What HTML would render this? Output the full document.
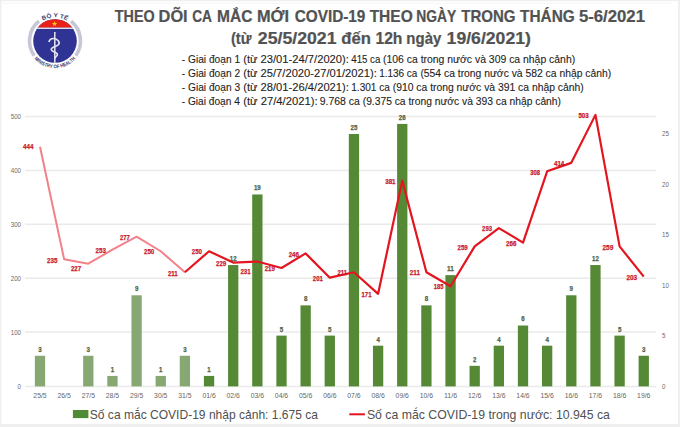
<!DOCTYPE html>
<html><head><meta charset="utf-8"><style>
html,body{margin:0;padding:0;background:#fff;width:680px;height:427px;overflow:hidden;position:relative}
svg text{font-family:"Liberation Sans",sans-serif}
</style></head><body>
<svg width="680" height="427" viewBox="0 0 680 427" style="position:absolute;left:0;top:0">
<rect x="0" y="0" width="680" height="427" fill="#efefef"/>
<rect x="1.5" y="1.2" width="676.5" height="422.8" fill="#ffffff"/>
<line x1="0" y1="3.3" x2="672" y2="3.3" stroke="#f6f6f6" stroke-width="1"/>
<line x1="25" y1="386.60" x2="656" y2="386.60" stroke="#eaeaea" stroke-width="1.5"/>
<line x1="25" y1="332.10" x2="656" y2="332.10" stroke="#eaeaea" stroke-width="1.5"/>
<line x1="25" y1="278.20" x2="656" y2="278.20" stroke="#eaeaea" stroke-width="1.5"/>
<line x1="25" y1="224.30" x2="656" y2="224.30" stroke="#eaeaea" stroke-width="1.5"/>
<line x1="25" y1="170.40" x2="656" y2="170.40" stroke="#eaeaea" stroke-width="1.5"/>
<line x1="25" y1="116.50" x2="656" y2="116.50" stroke="#eaeaea" stroke-width="1.5"/>
<text x="21" y="388.50" text-anchor="end" font-size="7.5" fill="#6a6a6a" textLength="3.43" lengthAdjust="spacingAndGlyphs">0</text>
<text x="21" y="334.60" text-anchor="end" font-size="7.5" fill="#6a6a6a" textLength="10.29" lengthAdjust="spacingAndGlyphs">100</text>
<text x="21" y="280.70" text-anchor="end" font-size="7.5" fill="#6a6a6a" textLength="10.29" lengthAdjust="spacingAndGlyphs">200</text>
<text x="21" y="226.80" text-anchor="end" font-size="7.5" fill="#6a6a6a" textLength="10.29" lengthAdjust="spacingAndGlyphs">300</text>
<text x="21" y="172.90" text-anchor="end" font-size="7.5" fill="#6a6a6a" textLength="10.29" lengthAdjust="spacingAndGlyphs">400</text>
<text x="21" y="119.00" text-anchor="end" font-size="7.5" fill="#6a6a6a" textLength="10.29" lengthAdjust="spacingAndGlyphs">500</text>
<text x="662" y="388.50" font-size="7.5" fill="#6a6a6a" textLength="3.43" lengthAdjust="spacingAndGlyphs">0</text>
<text x="662" y="338.05" font-size="7.5" fill="#6a6a6a" textLength="3.43" lengthAdjust="spacingAndGlyphs">5</text>
<text x="662" y="287.60" font-size="7.5" fill="#6a6a6a" textLength="6.86" lengthAdjust="spacingAndGlyphs">10</text>
<text x="662" y="237.15" font-size="7.5" fill="#6a6a6a" textLength="6.86" lengthAdjust="spacingAndGlyphs">15</text>
<text x="662" y="186.70" font-size="7.5" fill="#6a6a6a" textLength="6.86" lengthAdjust="spacingAndGlyphs">20</text>
<text x="662" y="136.25" font-size="7.5" fill="#6a6a6a" textLength="6.86" lengthAdjust="spacingAndGlyphs">25</text>
<text x="40.00" y="398.00" text-anchor="middle" font-size="7.8" fill="#666666" textLength="13.3" lengthAdjust="spacingAndGlyphs">25/5</text>
<text x="64.15" y="398.00" text-anchor="middle" font-size="7.8" fill="#666666" textLength="13.3" lengthAdjust="spacingAndGlyphs">26/5</text>
<text x="88.30" y="398.00" text-anchor="middle" font-size="7.8" fill="#666666" textLength="13.3" lengthAdjust="spacingAndGlyphs">27/5</text>
<text x="112.45" y="398.00" text-anchor="middle" font-size="7.8" fill="#666666" textLength="13.3" lengthAdjust="spacingAndGlyphs">28/5</text>
<text x="136.60" y="398.00" text-anchor="middle" font-size="7.8" fill="#666666" textLength="13.3" lengthAdjust="spacingAndGlyphs">29/5</text>
<text x="160.75" y="398.00" text-anchor="middle" font-size="7.8" fill="#666666" textLength="13.3" lengthAdjust="spacingAndGlyphs">30/5</text>
<text x="184.90" y="398.00" text-anchor="middle" font-size="7.8" fill="#666666" textLength="13.3" lengthAdjust="spacingAndGlyphs">31/5</text>
<text x="209.05" y="398.00" text-anchor="middle" font-size="7.8" fill="#666666" textLength="13.3" lengthAdjust="spacingAndGlyphs">01/6</text>
<text x="233.20" y="398.00" text-anchor="middle" font-size="7.8" fill="#666666" textLength="13.3" lengthAdjust="spacingAndGlyphs">02/6</text>
<text x="257.35" y="398.00" text-anchor="middle" font-size="7.8" fill="#666666" textLength="13.3" lengthAdjust="spacingAndGlyphs">03/6</text>
<text x="281.50" y="398.00" text-anchor="middle" font-size="7.8" fill="#666666" textLength="13.3" lengthAdjust="spacingAndGlyphs">04/6</text>
<text x="305.65" y="398.00" text-anchor="middle" font-size="7.8" fill="#666666" textLength="13.3" lengthAdjust="spacingAndGlyphs">05/6</text>
<text x="329.80" y="398.00" text-anchor="middle" font-size="7.8" fill="#666666" textLength="13.3" lengthAdjust="spacingAndGlyphs">06/6</text>
<text x="353.95" y="398.00" text-anchor="middle" font-size="7.8" fill="#666666" textLength="13.3" lengthAdjust="spacingAndGlyphs">07/6</text>
<text x="378.10" y="398.00" text-anchor="middle" font-size="7.8" fill="#666666" textLength="13.3" lengthAdjust="spacingAndGlyphs">08/6</text>
<text x="402.25" y="398.00" text-anchor="middle" font-size="7.8" fill="#666666" textLength="13.3" lengthAdjust="spacingAndGlyphs">09/6</text>
<text x="426.40" y="398.00" text-anchor="middle" font-size="7.8" fill="#666666" textLength="13.3" lengthAdjust="spacingAndGlyphs">10/6</text>
<text x="450.55" y="398.00" text-anchor="middle" font-size="7.8" fill="#666666" textLength="13.3" lengthAdjust="spacingAndGlyphs">11/6</text>
<text x="474.70" y="398.00" text-anchor="middle" font-size="7.8" fill="#666666" textLength="13.3" lengthAdjust="spacingAndGlyphs">12/6</text>
<text x="498.85" y="398.00" text-anchor="middle" font-size="7.8" fill="#666666" textLength="13.3" lengthAdjust="spacingAndGlyphs">13/6</text>
<text x="523.00" y="398.00" text-anchor="middle" font-size="7.8" fill="#666666" textLength="13.3" lengthAdjust="spacingAndGlyphs">14/6</text>
<text x="547.15" y="398.00" text-anchor="middle" font-size="7.8" fill="#666666" textLength="13.3" lengthAdjust="spacingAndGlyphs">15/6</text>
<text x="571.30" y="398.00" text-anchor="middle" font-size="7.8" fill="#666666" textLength="13.3" lengthAdjust="spacingAndGlyphs">16/6</text>
<text x="595.45" y="398.00" text-anchor="middle" font-size="7.8" fill="#666666" textLength="13.3" lengthAdjust="spacingAndGlyphs">17/6</text>
<text x="619.60" y="398.00" text-anchor="middle" font-size="7.8" fill="#666666" textLength="13.3" lengthAdjust="spacingAndGlyphs">18/6</text>
<text x="643.75" y="398.00" text-anchor="middle" font-size="7.8" fill="#666666" textLength="13.3" lengthAdjust="spacingAndGlyphs">19/6</text>
<rect x="34.85" y="355.76" width="10.3" height="30.64" fill="#87a872"/>
<text x="40.00" y="351.66" text-anchor="middle" font-size="7.3" font-weight="bold" fill="#536343" stroke="#536343" stroke-width="0.25" textLength="3.43" lengthAdjust="spacingAndGlyphs">3</text>
<rect x="83.15" y="355.76" width="10.3" height="30.64" fill="#87a872"/>
<text x="88.30" y="351.66" text-anchor="middle" font-size="7.3" font-weight="bold" fill="#536343" stroke="#536343" stroke-width="0.25" textLength="3.43" lengthAdjust="spacingAndGlyphs">3</text>
<rect x="107.30" y="375.92" width="10.3" height="10.48" fill="#87a872"/>
<text x="112.45" y="371.82" text-anchor="middle" font-size="7.3" font-weight="bold" fill="#536343" stroke="#536343" stroke-width="0.25" textLength="3.43" lengthAdjust="spacingAndGlyphs">1</text>
<rect x="131.45" y="295.28" width="10.3" height="91.12" fill="#87a872"/>
<text x="136.60" y="291.18" text-anchor="middle" font-size="7.3" font-weight="bold" fill="#536343" stroke="#536343" stroke-width="0.25" textLength="3.43" lengthAdjust="spacingAndGlyphs">9</text>
<rect x="155.60" y="375.92" width="10.3" height="10.48" fill="#87a872"/>
<text x="160.75" y="371.82" text-anchor="middle" font-size="7.3" font-weight="bold" fill="#536343" stroke="#536343" stroke-width="0.25" textLength="3.43" lengthAdjust="spacingAndGlyphs">1</text>
<rect x="179.75" y="355.76" width="10.3" height="30.64" fill="#87a872"/>
<text x="184.90" y="351.66" text-anchor="middle" font-size="7.3" font-weight="bold" fill="#536343" stroke="#536343" stroke-width="0.25" textLength="3.43" lengthAdjust="spacingAndGlyphs">3</text>
<rect x="203.90" y="375.92" width="10.3" height="10.48" fill="#568936"/>
<text x="209.05" y="371.82" text-anchor="middle" font-size="7.3" font-weight="bold" fill="#536343" stroke="#536343" stroke-width="0.25" textLength="3.43" lengthAdjust="spacingAndGlyphs">1</text>
<rect x="228.05" y="265.04" width="10.3" height="121.36" fill="#568936"/>
<text x="233.20" y="260.94" text-anchor="middle" font-size="7.3" font-weight="bold" fill="#536343" stroke="#536343" stroke-width="0.25" textLength="6.86" lengthAdjust="spacingAndGlyphs">12</text>
<rect x="252.20" y="194.48" width="10.3" height="191.92" fill="#568936"/>
<text x="257.35" y="190.38" text-anchor="middle" font-size="7.3" font-weight="bold" fill="#536343" stroke="#536343" stroke-width="0.25" textLength="6.86" lengthAdjust="spacingAndGlyphs">19</text>
<rect x="276.35" y="335.60" width="10.3" height="50.80" fill="#568936"/>
<text x="281.50" y="331.50" text-anchor="middle" font-size="7.3" font-weight="bold" fill="#536343" stroke="#536343" stroke-width="0.25" textLength="3.43" lengthAdjust="spacingAndGlyphs">5</text>
<rect x="300.50" y="305.36" width="10.3" height="81.04" fill="#568936"/>
<text x="305.65" y="301.26" text-anchor="middle" font-size="7.3" font-weight="bold" fill="#536343" stroke="#536343" stroke-width="0.25" textLength="3.43" lengthAdjust="spacingAndGlyphs">8</text>
<rect x="324.65" y="335.60" width="10.3" height="50.80" fill="#568936"/>
<text x="329.80" y="331.50" text-anchor="middle" font-size="7.3" font-weight="bold" fill="#536343" stroke="#536343" stroke-width="0.25" textLength="3.43" lengthAdjust="spacingAndGlyphs">5</text>
<rect x="348.80" y="134.00" width="10.3" height="252.40" fill="#568936"/>
<text x="353.95" y="129.90" text-anchor="middle" font-size="7.3" font-weight="bold" fill="#536343" stroke="#536343" stroke-width="0.25" textLength="6.86" lengthAdjust="spacingAndGlyphs">25</text>
<rect x="372.95" y="345.68" width="10.3" height="40.72" fill="#568936"/>
<text x="378.10" y="341.58" text-anchor="middle" font-size="7.3" font-weight="bold" fill="#536343" stroke="#536343" stroke-width="0.25" textLength="3.43" lengthAdjust="spacingAndGlyphs">4</text>
<rect x="397.10" y="123.92" width="10.3" height="262.48" fill="#568936"/>
<text x="402.25" y="119.82" text-anchor="middle" font-size="7.3" font-weight="bold" fill="#536343" stroke="#536343" stroke-width="0.25" textLength="6.86" lengthAdjust="spacingAndGlyphs">26</text>
<rect x="421.25" y="305.36" width="10.3" height="81.04" fill="#568936"/>
<text x="426.40" y="301.26" text-anchor="middle" font-size="7.3" font-weight="bold" fill="#536343" stroke="#536343" stroke-width="0.25" textLength="3.43" lengthAdjust="spacingAndGlyphs">8</text>
<rect x="445.40" y="275.12" width="10.3" height="111.28" fill="#568936"/>
<text x="450.55" y="271.02" text-anchor="middle" font-size="7.3" font-weight="bold" fill="#536343" stroke="#536343" stroke-width="0.25" textLength="6.86" lengthAdjust="spacingAndGlyphs">11</text>
<rect x="469.55" y="365.84" width="10.3" height="20.56" fill="#568936"/>
<text x="474.70" y="361.74" text-anchor="middle" font-size="7.3" font-weight="bold" fill="#536343" stroke="#536343" stroke-width="0.25" textLength="3.43" lengthAdjust="spacingAndGlyphs">2</text>
<rect x="493.70" y="345.68" width="10.3" height="40.72" fill="#568936"/>
<text x="498.85" y="341.58" text-anchor="middle" font-size="7.3" font-weight="bold" fill="#536343" stroke="#536343" stroke-width="0.25" textLength="3.43" lengthAdjust="spacingAndGlyphs">4</text>
<rect x="517.85" y="325.52" width="10.3" height="60.88" fill="#568936"/>
<text x="523.00" y="321.42" text-anchor="middle" font-size="7.3" font-weight="bold" fill="#536343" stroke="#536343" stroke-width="0.25" textLength="3.43" lengthAdjust="spacingAndGlyphs">6</text>
<rect x="542.00" y="345.68" width="10.3" height="40.72" fill="#568936"/>
<text x="547.15" y="341.58" text-anchor="middle" font-size="7.3" font-weight="bold" fill="#536343" stroke="#536343" stroke-width="0.25" textLength="3.43" lengthAdjust="spacingAndGlyphs">4</text>
<rect x="566.15" y="295.28" width="10.3" height="91.12" fill="#568936"/>
<text x="571.30" y="291.18" text-anchor="middle" font-size="7.3" font-weight="bold" fill="#536343" stroke="#536343" stroke-width="0.25" textLength="3.43" lengthAdjust="spacingAndGlyphs">9</text>
<rect x="590.30" y="265.04" width="10.3" height="121.36" fill="#568936"/>
<text x="595.45" y="260.94" text-anchor="middle" font-size="7.3" font-weight="bold" fill="#536343" stroke="#536343" stroke-width="0.25" textLength="6.86" lengthAdjust="spacingAndGlyphs">12</text>
<rect x="614.45" y="335.60" width="10.3" height="50.80" fill="#568936"/>
<text x="619.60" y="331.50" text-anchor="middle" font-size="7.3" font-weight="bold" fill="#536343" stroke="#536343" stroke-width="0.25" textLength="3.43" lengthAdjust="spacingAndGlyphs">5</text>
<rect x="638.60" y="355.76" width="10.3" height="30.64" fill="#568936"/>
<text x="643.75" y="351.66" text-anchor="middle" font-size="7.3" font-weight="bold" fill="#536343" stroke="#536343" stroke-width="0.25" textLength="3.43" lengthAdjust="spacingAndGlyphs">3</text>
<polyline points="40.00,146.68 64.15,259.33 88.30,263.65 112.45,249.63 136.60,236.70 160.75,251.25 184.90,272.27" fill="none" stroke="#f3818a" stroke-width="2" stroke-linejoin="round"/>
<polyline points="184.90,272.27 209.05,251.25 233.20,262.57 257.35,261.49 281.50,267.96 305.65,253.41 329.80,277.66 353.95,272.27 378.10,293.83 402.25,180.64 426.40,272.27 450.55,286.28 474.70,246.40 498.85,228.07 523.00,242.63 547.15,171.30 571.30,162.85 595.45,114.88 619.60,246.40 643.75,276.58" fill="none" stroke="#e3151f" stroke-width="2.2" stroke-linejoin="round"/>
<text x="23.00" y="149.40" font-size="7.3" font-weight="bold" fill="#c81a2c" stroke="#c81a2c" stroke-width="0.25" textLength="10.40" lengthAdjust="spacingAndGlyphs">444</text>
<text x="47.00" y="262.50" font-size="7.3" font-weight="bold" fill="#c81a2c" stroke="#c81a2c" stroke-width="0.25" textLength="10.40" lengthAdjust="spacingAndGlyphs">235</text>
<text x="70.90" y="270.90" font-size="7.3" font-weight="bold" fill="#c81a2c" stroke="#c81a2c" stroke-width="0.25" textLength="10.30" lengthAdjust="spacingAndGlyphs">227</text>
<text x="95.60" y="252.80" font-size="7.3" font-weight="bold" fill="#c81a2c" stroke="#c81a2c" stroke-width="0.25" textLength="10.30" lengthAdjust="spacingAndGlyphs">253</text>
<text x="119.90" y="240.00" font-size="7.3" font-weight="bold" fill="#c81a2c" stroke="#c81a2c" stroke-width="0.25" textLength="9.80" lengthAdjust="spacingAndGlyphs">277</text>
<text x="144.00" y="254.10" font-size="7.3" font-weight="bold" fill="#c81a2c" stroke="#c81a2c" stroke-width="0.25" textLength="10.30" lengthAdjust="spacingAndGlyphs">250</text>
<text x="167.90" y="275.50" font-size="7.3" font-weight="bold" fill="#c81a2c" stroke="#c81a2c" stroke-width="0.25" textLength="9.90" lengthAdjust="spacingAndGlyphs">211</text>
<text x="191.80" y="254.10" font-size="7.3" font-weight="bold" fill="#c81a2c" stroke="#c81a2c" stroke-width="0.25" textLength="10.20" lengthAdjust="spacingAndGlyphs">250</text>
<text x="216.00" y="265.90" font-size="7.3" font-weight="bold" fill="#c81a2c" stroke="#c81a2c" stroke-width="0.25" textLength="10.30" lengthAdjust="spacingAndGlyphs">229</text>
<text x="240.40" y="273.70" font-size="7.3" font-weight="bold" fill="#c81a2c" stroke="#c81a2c" stroke-width="0.25" textLength="10.30" lengthAdjust="spacingAndGlyphs">231</text>
<text x="264.70" y="271.20" font-size="7.3" font-weight="bold" fill="#c81a2c" stroke="#c81a2c" stroke-width="0.25" textLength="10.30" lengthAdjust="spacingAndGlyphs">219</text>
<text x="288.70" y="256.80" font-size="7.3" font-weight="bold" fill="#c81a2c" stroke="#c81a2c" stroke-width="0.25" textLength="10.30" lengthAdjust="spacingAndGlyphs">246</text>
<text x="312.80" y="281.00" font-size="7.3" font-weight="bold" fill="#c81a2c" stroke="#c81a2c" stroke-width="0.25" textLength="10.00" lengthAdjust="spacingAndGlyphs">201</text>
<text x="337.40" y="275.30" font-size="7.3" font-weight="bold" fill="#c81a2c" stroke="#c81a2c" stroke-width="0.25" textLength="9.80" lengthAdjust="spacingAndGlyphs">211</text>
<text x="361.50" y="296.90" font-size="7.3" font-weight="bold" fill="#c81a2c" stroke="#c81a2c" stroke-width="0.25" textLength="10.00" lengthAdjust="spacingAndGlyphs">171</text>
<text x="385.20" y="183.70" font-size="7.3" font-weight="bold" fill="#c81a2c" stroke="#c81a2c" stroke-width="0.25" textLength="10.40" lengthAdjust="spacingAndGlyphs">381</text>
<text x="409.70" y="275.30" font-size="7.3" font-weight="bold" fill="#c81a2c" stroke="#c81a2c" stroke-width="0.25" textLength="10.30" lengthAdjust="spacingAndGlyphs">211</text>
<text x="433.80" y="289.40" font-size="7.3" font-weight="bold" fill="#c81a2c" stroke="#c81a2c" stroke-width="0.25" textLength="9.80" lengthAdjust="spacingAndGlyphs">185</text>
<text x="457.50" y="249.50" font-size="7.3" font-weight="bold" fill="#c81a2c" stroke="#c81a2c" stroke-width="0.25" textLength="10.20" lengthAdjust="spacingAndGlyphs">259</text>
<text x="482.10" y="231.00" font-size="7.3" font-weight="bold" fill="#c81a2c" stroke="#c81a2c" stroke-width="0.25" textLength="9.90" lengthAdjust="spacingAndGlyphs">293</text>
<text x="505.90" y="245.80" font-size="7.3" font-weight="bold" fill="#c81a2c" stroke="#c81a2c" stroke-width="0.25" textLength="10.60" lengthAdjust="spacingAndGlyphs">266</text>
<text x="530.20" y="174.70" font-size="7.3" font-weight="bold" fill="#c81a2c" stroke="#c81a2c" stroke-width="0.25" textLength="9.80" lengthAdjust="spacingAndGlyphs">308</text>
<text x="554.00" y="165.80" font-size="7.3" font-weight="bold" fill="#c81a2c" stroke="#c81a2c" stroke-width="0.25" textLength="10.30" lengthAdjust="spacingAndGlyphs">414</text>
<text x="578.40" y="117.90" font-size="7.3" font-weight="bold" fill="#c81a2c" stroke="#c81a2c" stroke-width="0.25" textLength="10.30" lengthAdjust="spacingAndGlyphs">503</text>
<text x="602.50" y="249.70" font-size="7.3" font-weight="bold" fill="#c81a2c" stroke="#c81a2c" stroke-width="0.25" textLength="10.80" lengthAdjust="spacingAndGlyphs">259</text>
<text x="626.40" y="279.60" font-size="7.3" font-weight="bold" fill="#c81a2c" stroke="#c81a2c" stroke-width="0.25" textLength="10.70" lengthAdjust="spacingAndGlyphs">203</text>
<rect x="72.9" y="410" width="15.5" height="8.1" fill="#4f8a34"/>
<text x="89.8" y="418.6" font-size="13.2" fill="#505050" textLength="228.2" lengthAdjust="spacingAndGlyphs">Số ca mắc COVID-19 nhập cảnh: 1.675 ca</text>
<rect x="349.3" y="413.3" width="15.6" height="2" fill="#e3151f"/>
<text x="366.9" y="418.6" font-size="13.2" fill="#505050" textLength="243" lengthAdjust="spacingAndGlyphs">Số ca mắc COVID-19 trong nước: 10.945 ca</text>
<g>
<path d="M 34.24 55.81 A 25.5 25.5 0 0 1 38.95 21.18" fill="none" stroke="#c6c6d6" stroke-width="3.6"/>
<path d="M 75.76 55.81 A 25.5 25.5 0 0 0 71.05 21.18" fill="none" stroke="#c6c6d6" stroke-width="3.6"/>
<clipPath id="cc"><circle cx="55.0" cy="41.0" r="21.8"/></clipPath>
<g clip-path="url(#cc)">
<rect x="30" y="15" width="50" height="55" fill="#2f3494"/>
<rect x="30" y="15" width="50" height="12.7" fill="#e8221b"/>
<rect x="30" y="27.6" width="50" height="1.3" fill="#f6f2f6"/>
</g>
<polygon points="54.6,21.2 55.35,22.9 57.2,23 55.8,24.2 56.25,26 54.6,25 52.95,26 53.4,24.2 52,23 53.85,22.9" fill="#ffd000"/>
<path d="M54.8 32 L54.8 62.7" stroke="#e6e6f2" stroke-width="1.5"/>
<path d="M48.9 42 C 49.5 39.8, 51.3 38.4, 53.5 38.5 C 57.5 38.8, 60.5 42, 58.5 44.6 C 56.5 47, 51 46.8, 51.2 49.5 C 51.4 52, 57.6 52, 57.4 54.6 C 57.2 56.6, 54.5 57, 54.8 58.8" fill="none" stroke="#e6e6f2" stroke-width="1.6"/>

<text transform="translate(44.89,19.57) rotate(334.7) scale(1.099,1)" text-anchor="middle" font-size="5.8" font-weight="bold" fill="#3b3d70">B</text><text transform="translate(49.39,17.97) rotate(346.3) scale(1.099,1)" text-anchor="middle" font-size="5.8" font-weight="bold" fill="#3b3d70">Ộ</text><text transform="translate(55.71,17.31) rotate(361.7) scale(1.099,1)" text-anchor="middle" font-size="5.8" font-weight="bold" fill="#3b3d70">Y</text><text transform="translate(61.47,18.20) rotate(375.8) scale(1.099,1)" text-anchor="middle" font-size="5.8" font-weight="bold" fill="#3b3d70">T</text><text transform="translate(65.27,19.64) rotate(385.7) scale(1.099,1)" text-anchor="middle" font-size="5.8" font-weight="bold" fill="#3b3d70">Ế</text>
<text transform="translate(35.54,60.01) rotate(45.7) scale(0.839,1)" text-anchor="middle" font-size="5.2" font-weight="bold" fill="#3b3d70">M</text><text transform="translate(37.31,61.66) rotate(40.6) scale(0.839,1)" text-anchor="middle" font-size="5.2" font-weight="bold" fill="#3b3d70">I</text><text transform="translate(39.02,63.01) rotate(36.0) scale(0.839,1)" text-anchor="middle" font-size="5.2" font-weight="bold" fill="#3b3d70">N</text><text transform="translate(40.83,64.22) rotate(31.4) scale(0.839,1)" text-anchor="middle" font-size="5.2" font-weight="bold" fill="#3b3d70">I</text><text transform="translate(42.63,65.23) rotate(27.0) scale(0.839,1)" text-anchor="middle" font-size="5.2" font-weight="bold" fill="#3b3d70">S</text><text transform="translate(45.17,66.36) rotate(21.2) scale(0.839,1)" text-anchor="middle" font-size="5.2" font-weight="bold" fill="#3b3d70">T</text><text transform="translate(47.93,67.27) rotate(15.1) scale(0.839,1)" text-anchor="middle" font-size="5.2" font-weight="bold" fill="#3b3d70">R</text><text transform="translate(50.90,67.89) rotate(8.7) scale(0.839,1)" text-anchor="middle" font-size="5.2" font-weight="bold" fill="#3b3d70">Y</text><text transform="translate(55.24,68.20) rotate(-0.5) scale(0.839,1)" text-anchor="middle" font-size="5.2" font-weight="bold" fill="#3b3d70">O</text><text transform="translate(58.26,68.00) rotate(-6.9) scale(0.839,1)" text-anchor="middle" font-size="5.2" font-weight="bold" fill="#3b3d70">F</text><text transform="translate(62.30,67.20) rotate(-15.6) scale(0.839,1)" text-anchor="middle" font-size="5.2" font-weight="bold" fill="#3b3d70">H</text><text transform="translate(65.17,66.23) rotate(-21.9) scale(0.839,1)" text-anchor="middle" font-size="5.2" font-weight="bold" fill="#3b3d70">E</text><text transform="translate(67.91,64.94) rotate(-28.3) scale(0.839,1)" text-anchor="middle" font-size="5.2" font-weight="bold" fill="#3b3d70">A</text><text transform="translate(70.39,63.43) rotate(-34.5) scale(0.839,1)" text-anchor="middle" font-size="5.2" font-weight="bold" fill="#3b3d70">L</text><text transform="translate(72.51,61.82) rotate(-40.1) scale(0.839,1)" text-anchor="middle" font-size="5.2" font-weight="bold" fill="#3b3d70">T</text><text transform="translate(74.63,59.83) rotate(-46.2) scale(0.839,1)" text-anchor="middle" font-size="5.2" font-weight="bold" fill="#3b3d70">H</text>
</g>
<g transform="translate(0,21.8) scale(1,1.1)"><text x="114.85" y="0" font-size="14.6" font-weight="bold" fill="#525252" stroke="#525252" stroke-width="0.2" textLength="39.79" lengthAdjust="spacingAndGlyphs">THEO</text></g>
<g transform="translate(0,21.8) scale(1,1.1)"><text x="158.58" y="0" font-size="14.6" font-weight="bold" fill="#525252" stroke="#525252" stroke-width="0.2" textLength="29.09" lengthAdjust="spacingAndGlyphs">DÕI</text></g>
<g transform="translate(0,21.8) scale(1,1.1)"><text x="192.23" y="0" font-size="14.6" font-weight="bold" fill="#525252" stroke="#525252" stroke-width="0.2" textLength="19.78" lengthAdjust="spacingAndGlyphs">CA</text></g>
<g transform="translate(0,21.8) scale(1,1.1)"><text x="217.04" y="0" font-size="14.6" font-weight="bold" fill="#525252" stroke="#525252" stroke-width="0.2" textLength="35.39" lengthAdjust="spacingAndGlyphs">MẮC</text></g>
<g transform="translate(0,21.8) scale(1,1.1)"><text x="256.98" y="0" font-size="14.6" font-weight="bold" fill="#525252" stroke="#525252" stroke-width="0.2" textLength="32.15" lengthAdjust="spacingAndGlyphs">MỚI</text></g>
<g transform="translate(0,21.8) scale(1,1.1)"><text x="294.67" y="0" font-size="14.6" font-weight="bold" fill="#525252" stroke="#525252" stroke-width="0.2" textLength="70.74" lengthAdjust="spacingAndGlyphs">COVID-19</text></g>
<g transform="translate(0,21.8) scale(1,1.1)"><text x="369.63" y="0" font-size="14.6" font-weight="bold" fill="#525252" stroke="#525252" stroke-width="0.2" textLength="43.15" lengthAdjust="spacingAndGlyphs">THEO</text></g>
<g transform="translate(0,21.8) scale(1,1.1)"><text x="416.25" y="0" font-size="14.6" font-weight="bold" fill="#525252" stroke="#525252" stroke-width="0.2" textLength="39.95" lengthAdjust="spacingAndGlyphs">NGÀY</text></g>
<g transform="translate(0,21.8) scale(1,1.1)"><text x="461.24" y="0" font-size="14.6" font-weight="bold" fill="#525252" stroke="#525252" stroke-width="0.2" textLength="54.35" lengthAdjust="spacingAndGlyphs">TRONG</text></g>
<g transform="translate(0,21.8) scale(1,1.1)"><text x="520.04" y="0" font-size="14.6" font-weight="bold" fill="#525252" stroke="#525252" stroke-width="0.2" textLength="54.71" lengthAdjust="spacingAndGlyphs">THÁNG</text></g>
<g transform="translate(0,21.8) scale(1,1.1)"><text x="578.93" y="0" font-size="14.6" font-weight="bold" fill="#525252" stroke="#525252" stroke-width="0.2" textLength="66.01" lengthAdjust="spacingAndGlyphs">5-6/2021</text></g>
<g transform="translate(0,44.4) scale(1,1.1)"><text x="230.94" y="0" font-size="14.6" font-weight="bold" fill="#525252" stroke="#525252" stroke-width="0.2" textLength="20.61" lengthAdjust="spacingAndGlyphs">(từ</text></g>
<g transform="translate(0,44.4) scale(1,1.1)"><text x="257.89" y="0" font-size="14.6" font-weight="bold" fill="#525252" stroke="#525252" stroke-width="0.2" textLength="78.64" lengthAdjust="spacingAndGlyphs">25/5/2021</text></g>
<g transform="translate(0,44.4) scale(1,1.1)"><text x="341.33" y="0" font-size="14.6" font-weight="bold" fill="#525252" stroke="#525252" stroke-width="0.2" textLength="29.66" lengthAdjust="spacingAndGlyphs">đến</text></g>
<g transform="translate(0,44.4) scale(1,1.1)"><text x="375.42" y="0" font-size="14.6" font-weight="bold" fill="#525252" stroke="#525252" stroke-width="0.2" textLength="27.05" lengthAdjust="spacingAndGlyphs">12h</text></g>
<g transform="translate(0,44.4) scale(1,1.1)"><text x="406.38" y="0" font-size="14.6" font-weight="bold" fill="#525252" stroke="#525252" stroke-width="0.2" textLength="34.90" lengthAdjust="spacingAndGlyphs">ngày</text></g>
<g transform="translate(0,44.4) scale(1,1.1)"><text x="446.59" y="0" font-size="14.6" font-weight="bold" fill="#525252" stroke="#525252" stroke-width="0.2" textLength="84.28" lengthAdjust="spacingAndGlyphs">19/6/2021)</text></g>
<text x="181.79" y="62.8" font-size="10" font-weight="normal" fill="#1e1e1e" stroke="#1e1e1e" stroke-width="0.1" textLength="58.33" lengthAdjust="spacingAndGlyphs">- Giai đoạn 1</text>
<text x="243.16" y="62.8" font-size="10" font-weight="normal" fill="#1e1e1e" stroke="#1e1e1e" stroke-width="0.1" textLength="105.71" lengthAdjust="spacingAndGlyphs">(từ 23/01-24/7/2020):</text>
<text x="351.26" y="62.8" font-size="10" font-weight="normal" fill="#1e1e1e" stroke="#1e1e1e" stroke-width="0.1" textLength="29.07" lengthAdjust="spacingAndGlyphs">415 ca</text>
<text x="383.02" y="62.8" font-size="10" font-weight="normal" fill="#1e1e1e" stroke="#1e1e1e" stroke-width="0.1" textLength="192.14" lengthAdjust="spacingAndGlyphs">(106 ca trong nước và 309 ca nhập cảnh)</text>
<text x="181.79" y="76.8" font-size="10" font-weight="normal" fill="#1e1e1e" stroke="#1e1e1e" stroke-width="0.1" textLength="58.33" lengthAdjust="spacingAndGlyphs">- Giai đoạn 2</text>
<text x="243.16" y="76.8" font-size="10" font-weight="normal" fill="#1e1e1e" stroke="#1e1e1e" stroke-width="0.1" textLength="133.64" lengthAdjust="spacingAndGlyphs">(từ 25/7/2020-27/01/2021):</text>
<text x="379.25" y="76.8" font-size="10" font-weight="normal" fill="#1e1e1e" stroke="#1e1e1e" stroke-width="0.1" textLength="38.11" lengthAdjust="spacingAndGlyphs">1.136 ca</text>
<text x="420.42" y="76.8" font-size="10" font-weight="normal" fill="#1e1e1e" stroke="#1e1e1e" stroke-width="0.1" textLength="190.73" lengthAdjust="spacingAndGlyphs">(554 ca trong nước và 582 ca nhập cảnh)</text>
<text x="181.79" y="90.8" font-size="10" font-weight="normal" fill="#1e1e1e" stroke="#1e1e1e" stroke-width="0.1" textLength="58.33" lengthAdjust="spacingAndGlyphs">- Giai đoạn 3</text>
<text x="243.16" y="90.8" font-size="10" font-weight="normal" fill="#1e1e1e" stroke="#1e1e1e" stroke-width="0.1" textLength="105.71" lengthAdjust="spacingAndGlyphs">(từ 28/01-26/4/2021):</text>
<text x="351.25" y="90.8" font-size="10" font-weight="normal" fill="#1e1e1e" stroke="#1e1e1e" stroke-width="0.1" textLength="38.62" lengthAdjust="spacingAndGlyphs">1.301 ca</text>
<text x="392.72" y="90.8" font-size="10" font-weight="normal" fill="#1e1e1e" stroke="#1e1e1e" stroke-width="0.1" textLength="191.03" lengthAdjust="spacingAndGlyphs">(910 ca trong nước và 391 ca nhập cảnh)</text>
<text x="181.79" y="104.8" font-size="10" font-weight="normal" fill="#1e1e1e" stroke="#1e1e1e" stroke-width="0.1" textLength="58.07" lengthAdjust="spacingAndGlyphs">- Giai đoạn 4</text>
<text x="243.16" y="104.8" font-size="10" font-weight="normal" fill="#1e1e1e" stroke="#1e1e1e" stroke-width="0.1" textLength="74.39" lengthAdjust="spacingAndGlyphs">(từ 27/4/2021):</text>
<text x="319.78" y="104.8" font-size="10" font-weight="normal" fill="#1e1e1e" stroke="#1e1e1e" stroke-width="0.1" textLength="40.08" lengthAdjust="spacingAndGlyphs">9.768 ca</text>
<text x="362.73" y="104.8" font-size="10" font-weight="normal" fill="#1e1e1e" stroke="#1e1e1e" stroke-width="0.1" textLength="198.26" lengthAdjust="spacingAndGlyphs">(9.375 ca trong nước và 393 ca nhập cảnh)</text>
</svg>
</body></html>
